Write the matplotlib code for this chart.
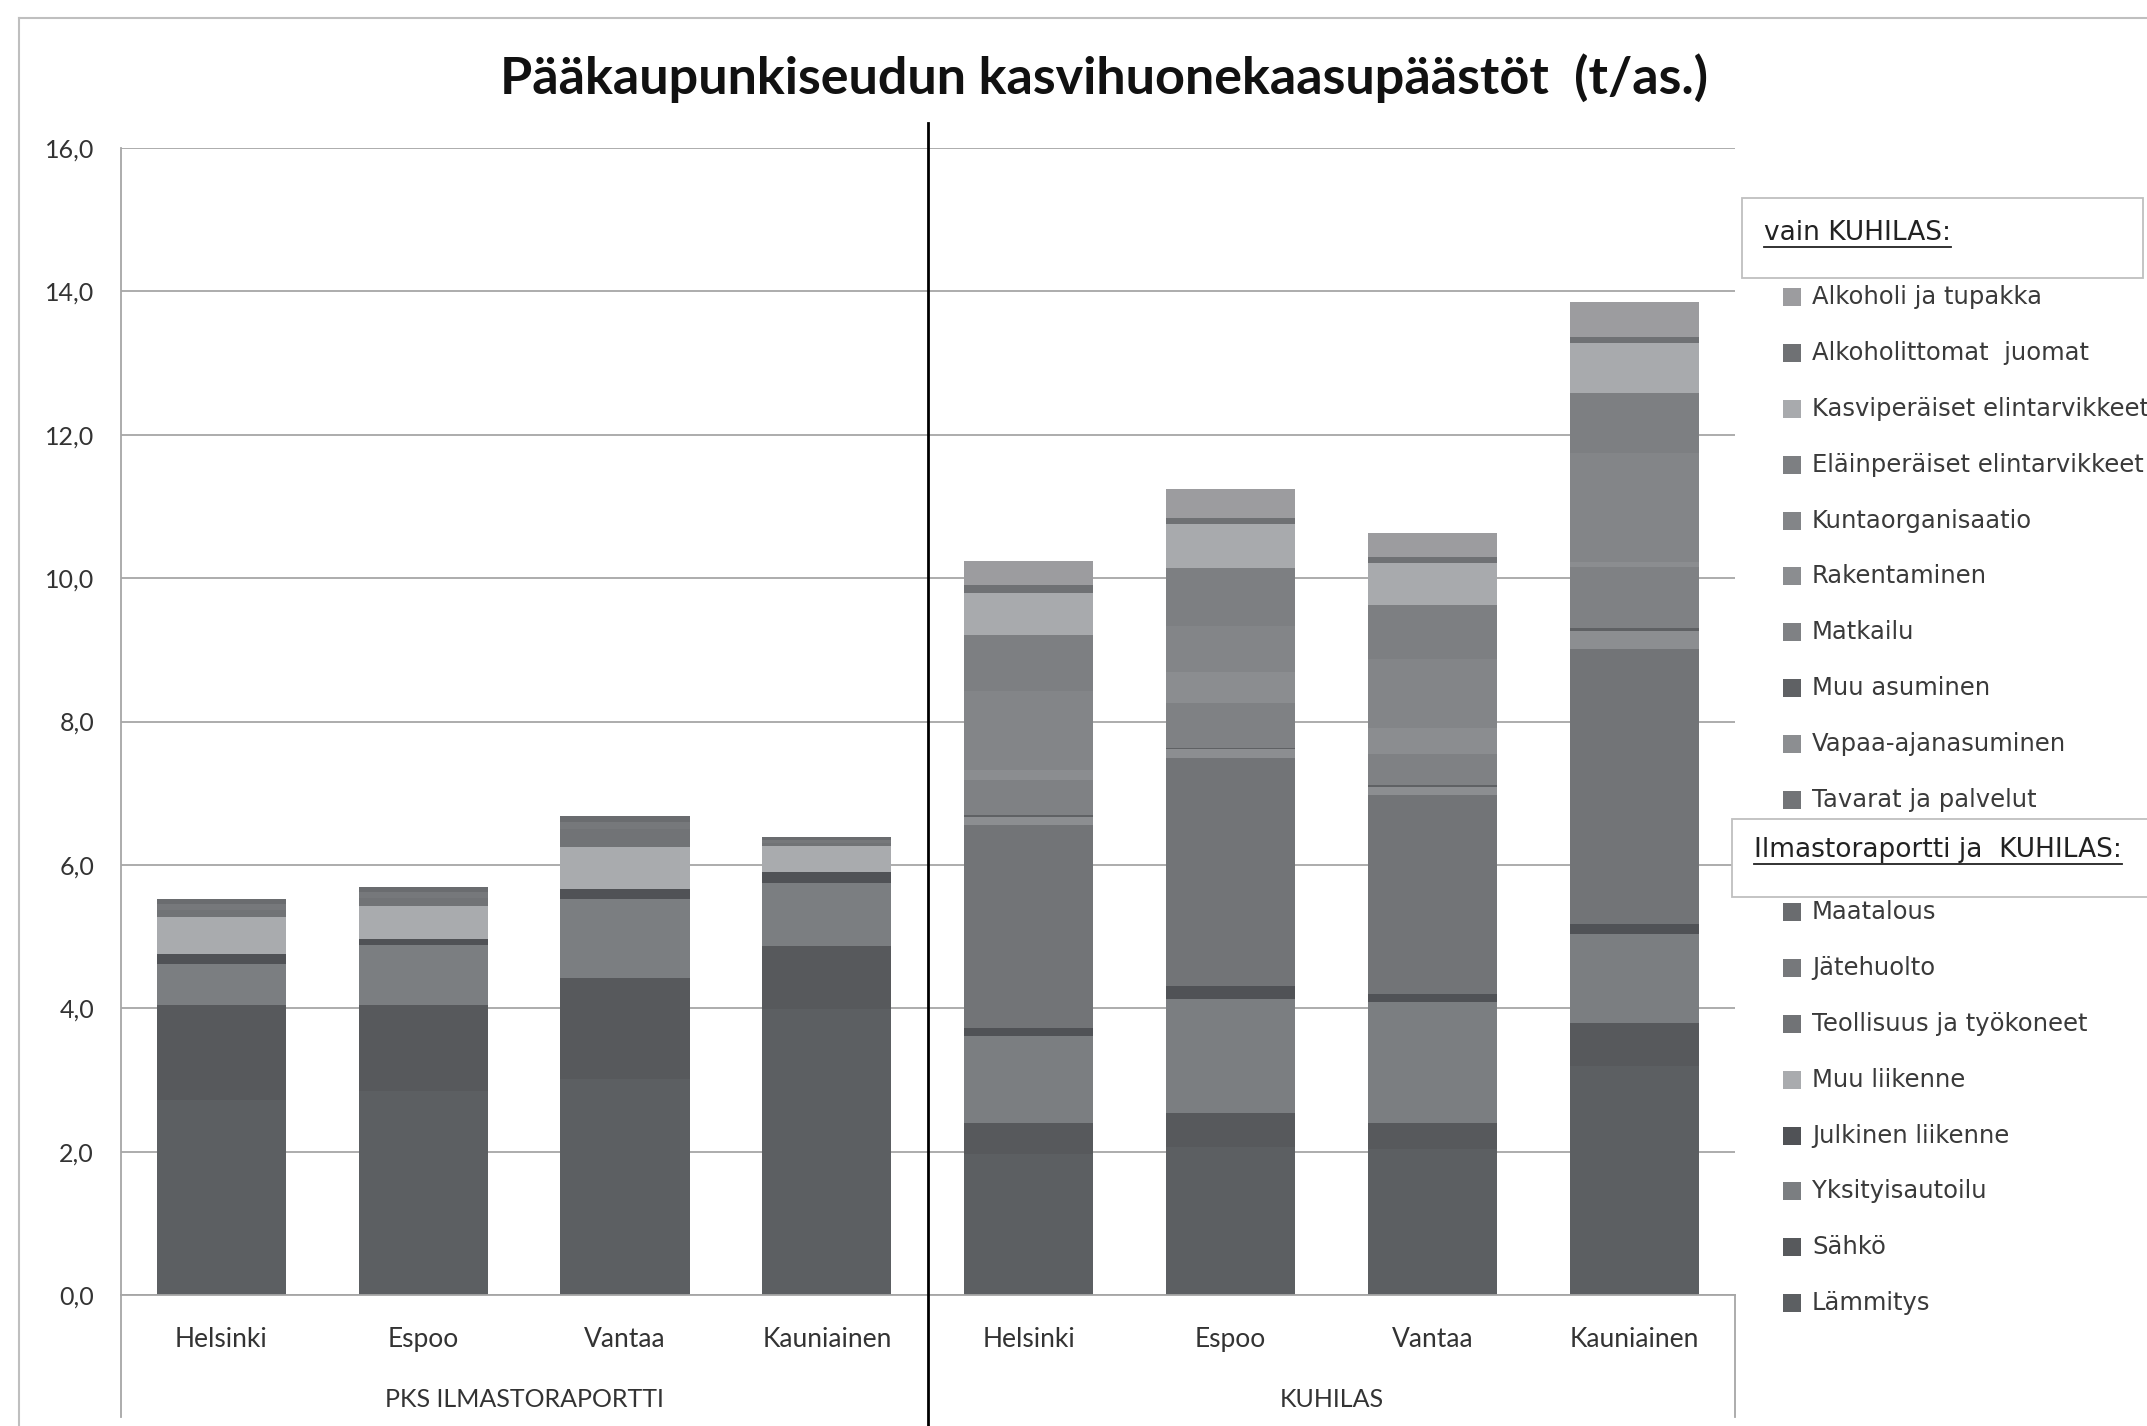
import matplotlib
matplotlib.use('Agg')
import matplotlib.pyplot as plt
from matplotlib.patches import Rectangle
from matplotlib.lines import Line2D
from matplotlib.ticker import FuncFormatter, MultipleLocator

plt.rcParams['font.family'] = ['Lato', 'DejaVu Sans']

# kaupungit ja ryhmät
cities = ['Helsinki', 'Espoo', 'Vantaa', 'Kauniainen', 'Helsinki', 'Espoo', 'Vantaa', 'Kauniainen']
groups = ['PKS ILMASTORAPORTTI', 'KUHILAS']

# sarjat alhaalta ylös (t/as.)
lammitys = [2.72, 2.84, 3.02, 3.99, 1.96, 2.06, 2.03, 3.19]
sahko = [1.33, 1.21, 1.40, 0.88, 0.44, 0.48, 0.37, 0.60]
yksityisautoilu = [0.57, 0.83, 1.11, 0.88, 1.21, 1.59, 1.69, 1.24]
julkinen = [0.13, 0.08, 0.14, 0.15, 0.11, 0.18, 0.11, 0.14]
muu_liikenne = [0.52, 0.46, 0.58, 0.36, 0, 0, 0, 0]
teollisuus = [0.10, 0.12, 0.25, 0.05, 0, 0, 0, 0]
jatehuolto = [0.08, 0.08, 0.10, 0.04, 0, 0, 0, 0]
maatalous = [0.07, 0.07, 0.08, 0.04, 0, 0, 0, 0]
tavarat = [0, 0, 0, 0, 2.83, 3.18, 2.77, 3.84]
vapaa_ajan = [0, 0, 0, 0, 0.12, 0.12, 0.11, 0.25]
muu_asuminen = [0, 0, 0, 0, 0.03, 0.02, 0.04, 0.04]
matkailu = [0, 0, 0, 0, 0.49, 0.63, 0.42, 0.85]
rakentaminen = [0, 0, 0, 0, 0.14, 0.43, 0.37, 0.08]
kunta = [0, 0, 0, 0, 1.09, 0.64, 0.96, 1.52]
elain = [0, 0, 0, 0, 0.79, 0.81, 0.76, 0.83]
kasvi = [0, 0, 0, 0, 0.58, 0.62, 0.58, 0.70]
alkoholittomat = [0, 0, 0, 0, 0.11, 0.08, 0.09, 0.08]
alkoholi = [0, 0, 0, 0, 0.34, 0.41, 0.33, 0.49]

series = [
    ('Lämmitys', lammitys, '#5c5f62'),
    ('Sähkö', sahko, '#57595c'),
    ('Yksityisautoilu', yksityisautoilu, '#7b7e81'),
    ('Julkinen liikenne', julkinen, '#505256'),
    ('Muu liikenne', muu_liikenne, '#a9abae'),
    ('Teollisuus ja työkoneet', teollisuus, '#717376'),
    ('Jätehuolto', jatehuolto, '#76787b'),
    ('Maatalous', maatalous, '#6a6c6f'),
    ('Tavarat ja palvelut', tavarat, '#727477'),
    ('Vapaa-ajanasuminen', vapaa_ajan, '#8c8e91'),
    ('Muu asuminen', muu_asuminen, '#5f6164'),
    ('Matkailu', matkailu, '#7f8184'),
    ('Rakentaminen', rakentaminen, '#8b8d90'),
    ('Kuntaorganisaatio', kunta, '#838588'),
    ('Eläinperäiset elintarvikkeet', elain, '#7d7f82'),
    ('Kasviperäiset elintarvikkeet', kasvi, '#a8aaad'),
    ('Alkoholittomat  juomat', alkoholittomat, '#6f7174'),
    ('Alkoholi ja tupakka', alkoholi, '#9c9c9f'),
]

W, H = 2147, 1426
fig = plt.figure(figsize=(W / 100, H / 100), dpi=100)
ax = fig.add_axes([120.5 / W, 1 - 1295 / H, (1735 - 120.5) / W, 1147 / H])

x = list(range(len(cities)))
bottom = [0.0] * len(cities)
for name, vals, col in series:
    ax.bar(x, vals, width=0.64, bottom=bottom, color=col, linewidth=0, zorder=2)
    bottom = [b + v for b, v in zip(bottom, vals)]

ax.set_xlim(-0.5, 7.5)
ax.set_ylim(0, 16)
ax.yaxis.set_major_locator(MultipleLocator(2))
ax.yaxis.set_major_formatter(FuncFormatter(lambda v, _: f'{v:.1f}'.replace('.', ',')))
ax.grid(axis='y', color='#a6a6a6', linewidth=1.3, zorder=0)
ax.set_axisbelow(True)
for s in ['top', 'right']:
    ax.spines[s].set_visible(False)
ax.spines['left'].set_color('#a6a6a6')
ax.spines['bottom'].set_color('#a6a6a6')
ax.spines['left'].set_linewidth(1.3)
ax.spines['bottom'].set_linewidth(1.3)
ax.set_xticks(x, cities)
ax.tick_params(axis='x', length=0, pad=23, labelsize=19, labelcolor='#333333')
ax.tick_params(axis='y', length=0, pad=19, labelsize=18, labelcolor='#333333')

# ryhmien nimet ja pystyviivat
trans = ax.get_xaxis_transform()
ax.text(1.5, -0.091, groups[0], transform=trans, ha='center', va='center', fontsize=18, color='#333333')
ax.text(5.5, -0.091, groups[1], transform=trans, ha='center', va='center', fontsize=18, color='#333333')
ax.plot([-0.5, -0.5], [0, -0.106], transform=trans, color='#a6a6a6', lw=1.3, clip_on=False)
ax.plot([7.5, 7.5], [0, -0.106], transform=trans, color='#a6a6a6', lw=1.3, clip_on=False)
ax.plot([3.5, 3.5], [1.022, -0.115], transform=trans, color='black', lw=2, clip_on=False, zorder=5)

# kehys
fig.add_artist(Line2D([19 / W, 1], [1 - 18 / H, 1 - 18 / H], transform=fig.transFigure, color='#bfbfbf', lw=1.5))
fig.add_artist(Line2D([19 / W, 19 / W], [0, 1 - 18 / H], transform=fig.transFigure, color='#bfbfbf', lw=1.5))

fig.text(1104 / W, 1 - 78 / H, 'Pääkaupunkiseudun kasvihuonekaasupäästöt  (t/as.)',
         ha='center', va='center', fontsize=37.5, fontweight='bold', color='#111111')

# selite
fig.patches.append(Rectangle((1742 / W, 1 - 278 / H), 401 / W, 80 / H, transform=fig.transFigure,
                             facecolor='white', edgecolor='#bfbfbf', lw=1.3))
fig.patches.append(Rectangle((1732 / W, 1 - 897 / H), 420 / W, 78 / H, transform=fig.transFigure,
                             facecolor='white', edgecolor='#bfbfbf', lw=1.3))
h1 = fig.text(1764 / W, 1 - 233 / H, 'vain KUHILAS:', ha='left', va='center', fontsize=19,
              color='#222222', family='DejaVu Sans')
h2 = fig.text(1754 / W, 1 - 850 / H, 'Ilmastoraportti ja  KUHILAS:', ha='left', va='center', fontsize=19,
              color='#222222', family='DejaVu Sans')

rev = series[::-1]
for i, (name, vals, col) in enumerate(rev):
    yc = 297 + i * 55.9 + (55.9 if i >= 10 else 0)
    fig.patches.append(Rectangle((1783 / W, 1 - (yc + 9) / H), 18 / W, 18 / H, transform=fig.transFigure,
                                 facecolor=col, edgecolor='none'))
    fig.text(1812 / W, 1 - yc / H, name, ha='left', va='center', fontsize=17.5, color='#3a3a3a',
             family='DejaVu Sans')

fig.canvas.draw()
for t in (h1, h2):
    bb = t.get_window_extent()
    yline = (bb.y0 - 1) / H
    fig.add_artist(Line2D([bb.x0 / W, bb.x1 / W], [yline, yline], transform=fig.transFigure,
                          color='#222222', lw=1.3))

fig.savefig('out.png', dpi=100)
